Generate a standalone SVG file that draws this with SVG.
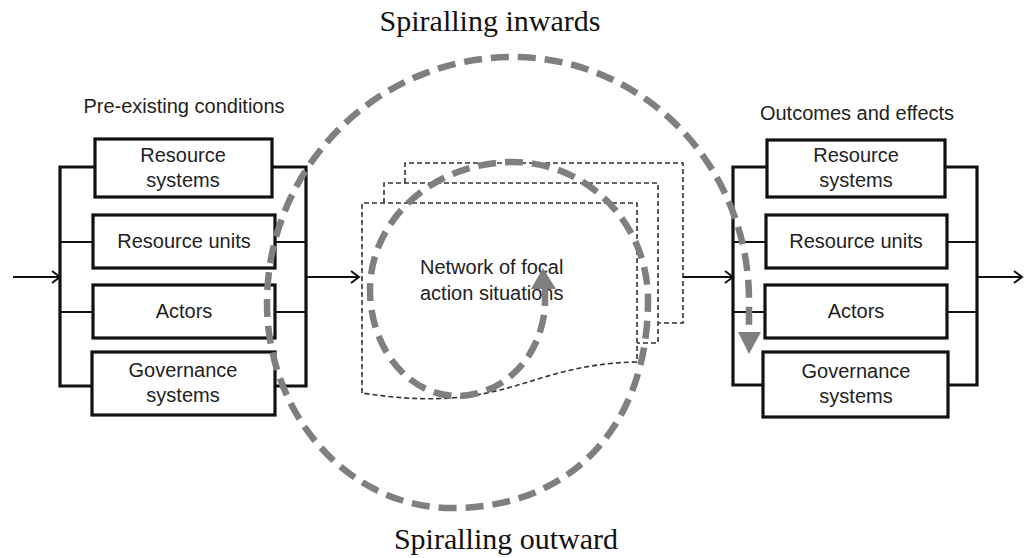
<svg xmlns="http://www.w3.org/2000/svg" width="1025" height="558" viewBox="0 0 1025 558">
<style>
.box{fill:#fff;stroke:#111;stroke-width:3.2}
.bus{fill:none;stroke:#111;stroke-width:3.2}
.stub{fill:none;stroke:#111;stroke-width:2.2}
.flow{fill:none;stroke:#111;stroke-width:2;marker-end:url(#open)}
.lbl{font-family:"Liberation Sans",Arial,sans-serif;font-size:20px;fill:#222;text-anchor:middle}
.ttl{font-family:"Liberation Serif","Times New Roman",serif;font-size:30px;fill:#111;text-anchor:middle}
.dsh{fill:none;stroke:#333;stroke-width:1.6;stroke-dasharray:5 3}
.spiral{fill:none;stroke:#7f7f7f;stroke-width:6.5;stroke-dasharray:18 9}
.head{fill:#7f7f7f}
</style>
<defs>
<marker id="open" markerWidth="14" markerHeight="14" refX="11" refY="7" orient="auto" markerUnits="userSpaceOnUse">
<path d="M3,1 L11,7 L3,13" fill="none" stroke="#111" stroke-width="2"/>
</marker>
</defs>
<rect width="1025" height="558" fill="#fff"/>
<text class="ttl" x="490" y="31">Spiralling inwards</text>
<text class="ttl" x="506" y="549">Spiralling outward</text>
<g id="pre-existing">
<text class="lbl" x="184" y="113">Pre-existing conditions</text>
<path class="bus" d="M95,167 H60 V386 H92"/>
<path class="bus" d="M272,167 H306 V386 H275"/>
<path class="stub" d="M60,242 H93 M60,312 H93 M275,242 H306 M275,312 H306"/>
<g id="pre-rs"><rect class="box" x="95" y="139" width="177" height="58"/><text class="lbl" x="183" y="162">Resource</text><text class="lbl" x="183" y="187">systems</text></g>
<g id="pre-ru"><rect class="box" x="93" y="215" width="182" height="53"/><text class="lbl" x="184" y="248">Resource units</text></g>
<g id="pre-ac"><rect class="box" x="93" y="285" width="182" height="53"/><text class="lbl" x="184" y="318">Actors</text></g>
<g id="pre-gs"><rect class="box" x="92" y="352" width="183" height="63"/><text class="lbl" x="183" y="377">Governance</text><text class="lbl" x="183" y="402">systems</text></g>
</g>
<g id="outcomes">
<text class="lbl" x="857" y="120">Outcomes and effects</text>
<path class="bus" d="M767,167 H733 V385 H763"/>
<path class="bus" d="M945,167 H977 V385 H948"/>
<path class="stub" d="M733,242 H766 M733,312 H765 M947,242 H977 M947,312 H977"/>
<g id="out-rs"><rect class="box" x="767" y="140" width="178" height="57"/><text class="lbl" x="856" y="162">Resource</text><text class="lbl" x="856" y="187">systems</text></g>
<g id="out-ru"><rect class="box" x="766" y="215" width="181" height="53"/><text class="lbl" x="856" y="248">Resource units</text></g>
<g id="out-ac"><rect class="box" x="765" y="285" width="182" height="53"/><text class="lbl" x="856" y="318">Actors</text></g>
<g id="out-gs"><rect class="box" x="763" y="352" width="185" height="65"/><text class="lbl" x="856" y="378">Governance</text><text class="lbl" x="856" y="403">systems</text></g>
</g>
<g id="network">
<path class="dsh" d="M405,183 V163 H683 V323 H659"/>
<path class="dsh" d="M384,203 V183 H658 V343 H637"/>
<path class="dsh" d="M362,393 V203 H637 V362 C575,363 540,380 500,390 C460,400 420,402 362,393"/>
<text x="420" y="274" font-family="Liberation Sans,Arial,sans-serif" font-size="20" fill="#222">Network of focal</text>
<text x="420" y="300" font-family="Liberation Sans,Arial,sans-serif" font-size="20" fill="#222">action situations</text>
</g>
<g id="connectors">
<path class="flow" d="M13,277 H60"/>
<path class="flow" d="M306,277 H359"/>
<path class="flow" d="M683,277 H733"/>
<path class="flow" d="M977,277 H1022"/>
</g>
<g id="spiral">
<path class="spiral" d="M545,288 L545,300 A88,96 0 0 1 457,396 A87,106 0 0 1 370,290 A143,128 0 0 1 513,162 A135,138 0 0 1 648,300 C648,425 572,508 452,508 A185,205 0 0 1 267,303 A246,246 0 0 1 513,57 A236,243 0 0 1 749,300 L749,332"/>
<polygon class="head" points="543,268 531,289 556,289"/>
<polygon class="head" points="738,332 761,332 749,354"/>
</g>
</svg>
